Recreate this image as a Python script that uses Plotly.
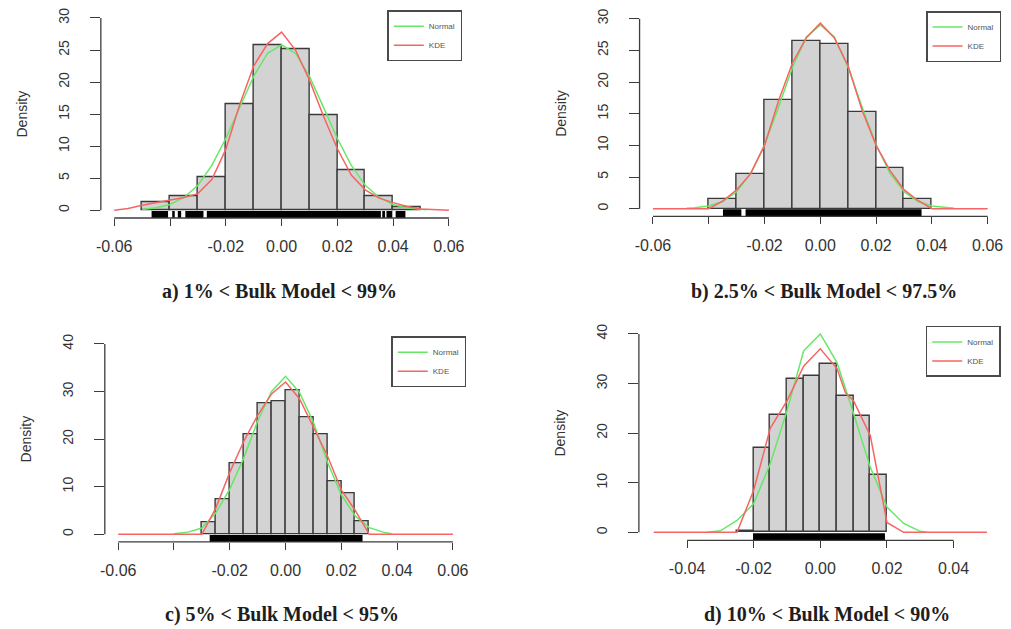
import plotly.graph_objects as go

# ---------------- data ----------------
# panel a) 1% < Bulk Model < 99%
a_bin_left = [-0.05, -0.04, -0.03, -0.02, -0.01, 0.00, 0.01, 0.02, 0.03, 0.04]
a_density = [1.2, 2.2, 5.2, 16.6, 25.7, 25.1, 14.8, 6.3, 2.2, 0.5]
a_bin_width = 0.01
a_norm_x = [-0.05, -0.045, -0.04, -0.035, -0.03, -0.025, -0.02, -0.015, -0.01, -0.005, 0.0,
            0.005, 0.01, 0.015, 0.02, 0.025, 0.03, 0.035, 0.04, 0.045, 0.05, 0.052]
a_norm_y = [0.14, 0.4, 0.9, 2.0, 3.9, 7.0, 11.2, 16.1, 20.9, 24.5, 25.8,
            24.5, 20.9, 16.1, 11.2, 7.0, 3.9, 2.0, 0.9, 0.37, 0.14, 0.1]
a_kde_x = [-0.06, -0.055, -0.05, -0.045, -0.04, -0.035, -0.03, -0.025, -0.02, -0.015, -0.01, -0.005, 0.0,
           0.005, 0.01, 0.015, 0.02, 0.025, 0.03, 0.035, 0.04, 0.045, 0.05, 0.055, 0.06]
a_kde_y = [0.0, 0.3, 0.8, 1.2, 1.5, 2.0, 2.6, 4.8, 9.5, 16.5, 22.5, 26.0, 27.8,
           25.0, 20.3, 14.7, 9.6, 5.5, 3.2, 1.9, 1.2, 0.6, 0.2, 0.05, 0.0]
a_rug = [(-0.0466, -0.0407), (-0.0392, -0.0383), (-0.0372, -0.0360), (-0.0345, -0.0280),
         (-0.0268, 0.0356), (0.0361, 0.0371), (0.0376, 0.0397), (0.0409, 0.0444)]

# panel b) 2.5% < Bulk Model < 97.5%
b_bin_left = [-0.04, -0.03, -0.02, -0.01, 0.00, 0.01, 0.02, 0.03]
b_density = [1.5, 5.4, 17.2, 26.4, 26.0, 15.3, 6.4, 1.6]
b_bin_width = 0.01
b_norm_x = [-0.048, -0.045, -0.04, -0.035, -0.03, -0.025, -0.02, -0.015, -0.01, -0.005, 0.0,
            0.005, 0.01, 0.015, 0.02, 0.025, 0.03, 0.035, 0.04, 0.045, 0.048]
b_norm_y = [0.06, 0.14, 0.42, 1.14, 2.7, 5.6, 10.1, 16.0, 22.3, 27.1, 29.0,
            27.1, 22.3, 16.0, 10.1, 5.6, 2.7, 1.14, 0.42, 0.14, 0.06]
b_kde_x = [-0.06, -0.04, -0.035, -0.03, -0.025, -0.02, -0.015, -0.01, -0.005, 0.0,
           0.005, 0.01, 0.015, 0.02, 0.025, 0.03, 0.035, 0.04, 0.06]
b_kde_y = [0.0, 0.0, 1.2, 3.0, 5.5, 10.0, 17.0, 23.0, 27.0, 29.3,
           27.0, 22.5, 15.5, 10.0, 6.0, 3.0, 1.3, 0.0, 0.0]
b_rug = [(-0.0349, -0.0283), (-0.0268, 0.0363)]

# panel c) 5% < Bulk Model < 95%
c_bin_left = [-0.03, -0.025, -0.02, -0.015, -0.01, -0.005, 0.0, 0.005, 0.01, 0.015, 0.02, 0.025]
c_density = [2.5, 7.3, 15.0, 21.0, 27.6, 28.0, 30.3, 24.5, 21.0, 11.2, 8.6, 2.8]
c_bin_width = 0.005
c_norm_x = [-0.04, -0.035, -0.03, -0.025, -0.02, -0.015, -0.01, -0.005, 0.0,
            0.005, 0.01, 0.015, 0.02, 0.025, 0.03, 0.035, 0.038]
c_norm_y = [0.1, 0.45, 1.3, 4.5, 9.5, 16.0, 23.8, 30.0, 33.2,
            29.8, 23.5, 15.2, 8.3, 3.8, 1.4, 0.45, 0.1]
c_kde_x = [-0.06, -0.03, -0.025, -0.02, -0.015, -0.01, -0.005, 0.0,
           0.005, 0.01, 0.015, 0.02, 0.025, 0.03, 0.06]
c_kde_y = [0.0, 0.0, 5.5, 13.0, 19.5, 25.0, 29.5, 32.0,
           28.5, 22.5, 16.5, 9.3, 5.0, 0.0, 0.0]
c_rug = [(-0.0272, 0.0276)]

# panel d) 10% < Bulk Model < 90%
d_bin_left = [-0.025, -0.02, -0.015, -0.01, -0.005, 0.0, 0.005, 0.01, 0.015]
d_density = [0.3, 17.0, 23.7, 31.0, 31.5, 34.0, 27.5, 23.5, 11.5]
d_bin_width = 0.005
d_norm_x = [-0.034, -0.03, -0.025, -0.02, -0.015, -0.01, -0.005, 0.0,
            0.005, 0.01, 0.015, 0.02, 0.025, 0.03, 0.032]
d_norm_y = [0.0, 0.3, 2.4, 5.8, 13.9, 24.5, 36.6, 40.0,
            34.2, 23.9, 13.1, 5.1, 1.8, 0.2, 0.0]
d_kde_x = [-0.05, -0.025, -0.02, -0.015, -0.01, -0.005, 0.0, 0.005, 0.0075, 0.01, 0.015, 0.02, 0.025, 0.05]
d_kde_y = [0.0, 0.0, 8.5, 21.0, 26.5, 33.5, 37.0, 33.0, 28.2, 26.5, 19.5, 2.0, 0.0, 0.0]
d_rug = [(-0.0202, 0.0194)]

captions = ["a) 1% < Bulk Model < 99%", "b) 2.5% < Bulk Model < 97.5%",
            "c) 5% < Bulk Model < 95%", "d) 10% < Bulk Model < 90%"]
x_ticks_wide = [-0.06, -0.04, -0.02, 0.0, 0.02, 0.04, 0.06]
x_text_wide = ["-0.06", "", "-0.02", "0.00", "0.02", "0.04", "0.06"]
x_ticks_d = [-0.04, -0.02, 0.0, 0.02, 0.04]
x_text_d = ["-0.04", "-0.02", "0.00", "0.02", "0.04"]
y_ticks_30 = [0, 5, 10, 15, 20, 25, 30]
y_ticks_40 = [0, 10, 20, 30, 40]

# ---------------- layout geometry (pixels of a 1011x629 page) ----------------
W, H = 1011, 629
panels = [
    dict(bl=a_bin_left, dens=a_density, bw=a_bin_width, nx=a_norm_x, ny=a_norm_y, kx=a_kde_x, ky=a_kde_y,
         rug=a_rug, px=(96.5, 460.5), py=(8.3, 216.7), xr=(-0.0648, 0.0648), yr=(-1.2, 31.2),
         xt=x_ticks_wide, xtt=x_text_wide, yt=y_ticks_30, cap_xy=(276, 290)),
    dict(bl=b_bin_left, dens=b_density, bw=b_bin_width, nx=b_norm_x, ny=b_norm_y, kx=b_kde_x, ky=b_kde_y,
         rug=b_rug, px=(639.0, 1003.0), py=(9.1, 215.0), xr=(-0.0648, 0.0648), yr=(-1.2, 31.2),
         xt=x_ticks_wide, xtt=x_text_wide, yt=y_ticks_30, cap_xy=(825, 290)),
    dict(bl=c_bin_left, dens=c_density, bw=c_bin_width, nx=c_norm_x, ny=c_norm_y, kx=c_kde_x, ky=c_kde_y,
         rug=c_rug, px=(100.5, 464.5), py=(335.4, 541.6), xr=(-0.0648, 0.0648), yr=(-1.6, 41.6),
         xt=x_ticks_wide, xtt=x_text_wide, yt=y_ticks_40, cap_xy=(279, 614)),
    dict(bl=d_bin_left, dens=d_density, bw=d_bin_width, nx=d_norm_x, ny=d_norm_y, kx=d_kde_x, ky=d_kde_y,
         rug=d_rug, px=(638.3, 1002.7), py=(325.0, 540.0), xr=(-0.05446, 0.05416), yr=(-1.6, 41.6),
         xt=x_ticks_d, xtt=x_text_d, yt=y_ticks_40, cap_xy=(828, 614)),
]

AXIS_COL = "#3c3c3c"
TXT_COL = "#333333"
GREEN = "#66e866"
RED = "#f76464"
BAR_FILL = "#d3d3d3"
BAR_LINE = "#3a3a3a"

fig = go.Figure()
layout = dict(width=W, height=H, margin=dict(l=0, r=0, t=0, b=0),
              paper_bgcolor="white", plot_bgcolor="white", showlegend=True,
              bargap=0, barmode="overlay")
shapes = []
annotations = []

for i, p in enumerate(panels):
    k = "" if i == 0 else str(i + 1)
    xa, ya = "x" + k, "y" + k
    leg = "legend" + k
    # histogram bars
    centers = [b + p["bw"] / 2 for b in p["bl"]]
    fig.add_trace(go.Bar(x=centers, y=p["dens"], width=[p["bw"]] * len(centers),
                         marker=dict(color=BAR_FILL, line=dict(color=BAR_LINE, width=1.4)),
                         xaxis=xa, yaxis=ya, showlegend=False, hoverinfo="skip"))
    # rug (segments of dense tick marks)
    rx, ry = [], []
    span = p["yr"][1] - p["yr"][0]
    rug_y = p["yr"][0] + 0.017 * span
    for s, e in p["rug"]:
        rx += [s, e, None]
        ry += [rug_y, rug_y, None]
    fig.add_trace(go.Scatter(x=rx, y=ry, mode="lines", line=dict(color="black", width=7),
                             xaxis=xa, yaxis=ya, showlegend=False, hoverinfo="skip"))
    # curves
    fig.add_trace(go.Scatter(x=p["nx"], y=p["ny"], mode="lines", name="Normal",
                             line=dict(color=GREEN, width=1.5), xaxis=xa, yaxis=ya, legend=leg))
    fig.add_trace(go.Scatter(x=p["kx"], y=p["ky"], mode="lines", name="KDE",
                             line=dict(color=RED, width=1.5), xaxis=xa, yaxis=ya, legend=leg))

    x0, x1 = p["px"][0] / W, p["px"][1] / W
    y0, y1 = 1 - p["py"][1] / H, 1 - p["py"][0] / H
    layout["xaxis" + k] = dict(domain=[x0, x1], range=list(p["xr"]), anchor=ya,
                               showgrid=False, zeroline=False, showline=False,
                               ticks="outside", ticklen=7, tickwidth=1.3, tickcolor=AXIS_COL,
                               tickvals=p["xt"], ticktext=p["xtt"], ticklabelstandoff=7,
                               tickfont=dict(family="Liberation Sans", size=16, color=TXT_COL),
                               fixedrange=True)
    layout["yaxis" + k] = dict(domain=[y0, y1], range=list(p["yr"]), anchor=xa,
                               showgrid=False, zeroline=False, showline=False,
                               ticks="outside", ticklen=10, tickwidth=1.3, tickcolor=AXIS_COL,
                               tickvals=p["yt"], ticktext=[str(v) for v in p["yt"]],
                               tickangle=-90, ticklabelstandoff=15,
                               tickfont=dict(family="Liberation Sans", size=14, color=TXT_COL),
                               fixedrange=True)
    # R-style axis lines spanning only the tick range
    shapes.append(dict(type="line", xref=xa, yref=ya + " domain", x0=p["xt"][0], x1=p["xt"][-1],
                       y0=0, y1=0, line=dict(color=AXIS_COL, width=1.3)))
    shapes.append(dict(type="line", xref=xa + " domain", yref=ya, x0=0, x1=0,
                       y0=p["yt"][0], y1=p["yt"][-1], line=dict(color=AXIS_COL, width=1.3)))
    # legend box in the top-right corner of each panel
    layout[leg] = dict(x=x1, y=y1, xanchor="right", yanchor="top",
                       bgcolor="white", bordercolor="#4a4a4a", borderwidth=1.5,
                       font=dict(family="Liberation Sans", size=8, color="#555555"),
                       itemwidth=30, tracegroupgap=0)
    # y title
    annotations.append(dict(text="Density", xref="paper", yref="paper",
                            x=(p["px"][0] - 79) / W, y=1 - ((p["py"][0] + p["py"][1]) / 2) / H,
                            xanchor="center", yanchor="middle", textangle=-90, showarrow=False,
                            font=dict(family="Liberation Sans", size=14, color=TXT_COL)))
    # caption
    annotations.append(dict(text="<b>" + captions[i].replace("<", "&lt;") + "</b>", xref="paper", yref="paper",
                            x=p["cap_xy"][0] / W, y=1 - p["cap_xy"][1] / H,
                            xanchor="center", yanchor="middle", showarrow=False,
                            font=dict(family="Liberation Serif", size=20, color="#1e1e1e")))

layout["shapes"] = shapes
layout["annotations"] = annotations
fig.update_layout(**layout)
fig.write_html("out.html")
